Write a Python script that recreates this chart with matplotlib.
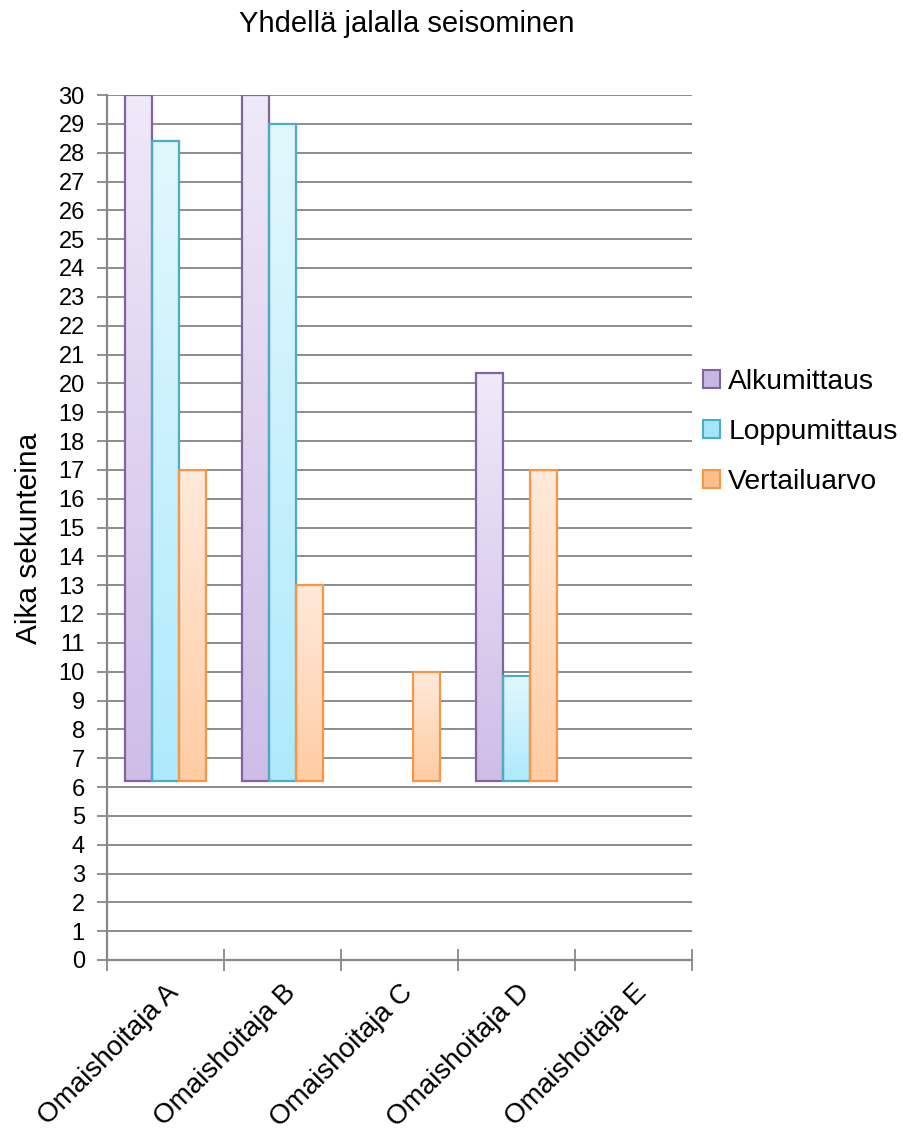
import numpy as np
import matplotlib
matplotlib.use('Agg')
import matplotlib.pyplot as plt
from matplotlib.colors import LinearSegmentedColormap
from matplotlib.patches import Patch

plt.rcParams['font.family'] = ['Liberation Sans', 'DejaVu Sans']

# data
categories = ['Omaishoitaja A', 'Omaishoitaja B', 'Omaishoitaja C',
              'Omaishoitaja D', 'Omaishoitaja E']
series = ['Alkumittaus', 'Loppumittaus', 'Vertailuarvo']
alkumittaus = [30, 30, np.nan, 20.35, np.nan]
loppumittaus = [28.4, 29.0, np.nan, 9.85, np.nan]
vertailuarvo = [17, 13, 10, 17, np.nan]
baseline = 6.2   # bars float above a floor in the original
values = [alkumittaus, loppumittaus, vertailuarvo]

edge_cols = ['#8064A2', '#4BACC6', '#F79646']
top_cols = ['#EFE9F8', '#E2F8FD', '#FFEADB']
bot_cols = ['#CFBDE7', '#AEEAFB', '#FFCCA2']
leg_cols = ['#C8B6E4', '#A4E6F9', '#FDBF8E']

fig = plt.figure(figsize=(9.04, 11.33), dpi=100)
ax = fig.add_axes([107/904, 1-960/1133, (692-107)/904, (960-95)/1133])

x = np.arange(len(categories))
w = 0.23
grad = np.linspace(0, 1, 256).reshape(-1, 1)
for k, vals in enumerate(values):
    cmap = LinearSegmentedColormap.from_list('g%d' % k, [top_cols[k], bot_cols[k]])
    heights = [v - baseline if not np.isnan(v) else 0 for v in vals]
    bars = ax.bar(x + (k - 1) * w, heights, w, bottom=baseline,
                  facecolor='none', edgecolor=edge_cols[k], linewidth=1.6, zorder=3)
    for b, v in zip(bars, vals):
        if np.isnan(v):
            b.set_visible(False)
            continue
        x0, y0 = b.get_x(), b.get_y()
        im = ax.imshow(grad, cmap=cmap, aspect='auto', zorder=2,
                       extent=[x0, x0 + b.get_width(), y0, y0 + b.get_height()],
                       origin='upper')
        im.set_clip_path(b)

ax.set_xlim(-0.5, len(categories) - 0.5)
ax.set_ylim(0, 30)
ax.set_yticks(range(0, 31))
ax.tick_params(axis='y', labelsize=17, length=7, width=1.3, color='#888888', pad=9)
ax.set_xticks(np.arange(-0.5, len(categories), 1.0))
ax.set_xticklabels([])
ax.set_xticks(x, minor=True)
ax.set_xticklabels(categories, minor=True, rotation=45, ha='right',
                   rotation_mode='anchor', fontsize=20)
ax.tick_params(axis='x', which='major', direction='inout', length=16,
               width=1.3, color='#888888')
ax.tick_params(axis='x', which='minor', length=0, pad=14)

ax.yaxis.grid(True, color='#8c8c8c', linewidth=1.4, zorder=1)
ax.set_axisbelow(True)
for s in ['top', 'right']:
    ax.spines[s].set_visible(False)
for s in ['left', 'bottom']:
    ax.spines[s].set_color('#888888')
    ax.spines[s].set_linewidth(1.6)

ax.set_ylabel('Aika sekunteina', fontsize=21.5)
ax.yaxis.set_label_coords(-0.11, 0.487)
fig.text(407/904, 1-24/1133, 'Yhdellä jalalla seisominen', fontsize=21,
         ha='center', va='center')

handles = [Patch(facecolor=leg_cols[k], edgecolor=edge_cols[k], linewidth=1.5)
           for k in range(3)]
fig.legend(handles, series, loc='center left', bbox_to_anchor=(703/904, 1-432/1133),
           frameon=False, fontsize=20.3, handlelength=0.6, handleheight=0.6,
           handletextpad=0.3, labelspacing=0.85, borderaxespad=0, borderpad=0)

fig.savefig('out.png', dpi=100)
